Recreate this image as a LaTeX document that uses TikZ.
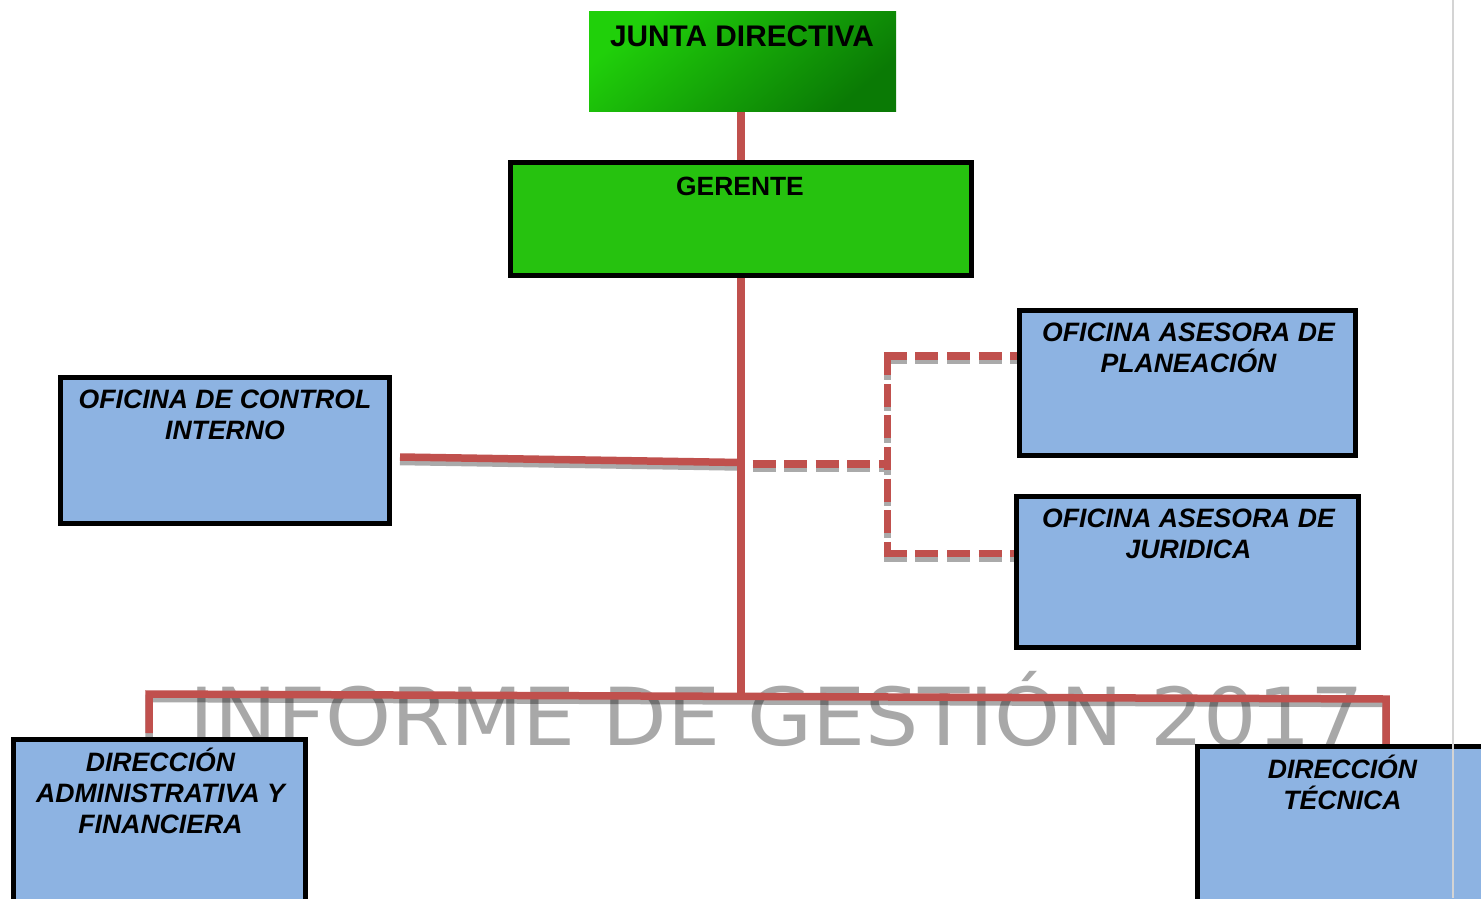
\documentclass[tikz,border=0pt]{standalone}
\usepackage{fontspec}
\setmainfont{Liberation Sans}
\newfontfamily\wmfont{DejaVu Sans}
\usetikzlibrary{calc}
\definecolor{redc}{HTML}{C0504D}
\definecolor{shadc}{HTML}{AAAAAA}
\definecolor{gerc}{HTML}{26C20F}
\definecolor{bluec}{HTML}{8DB3E2}
\definecolor{jtop}{RGB}{32,208,10}
\definecolor{jbot}{RGB}{10,122,5}
\definecolor{vline}{HTML}{D4D4D4}
\pgfdeclarelayer{shadowl}
\pgfdeclarelayer{wml}
\pgfdeclarelayer{linel}
\pgfsetlayers{shadowl,wml,linel,main}
\begin{document}
\begin{tikzpicture}[x=1pt,y=-1pt,
  conn/.style={draw=redc, line width=7.5pt, line join=miter},
  shad/.style={draw=shadc, line width=7.5pt, line join=miter, transform canvas={yshift=-4.5pt}},
  dsh/.style={dash pattern=on 23pt off 8.6pt},
  box/.style={rectangle, draw=black, line width=5pt, inner sep=0pt, outer sep=0pt},
  greenbox/.style={box, fill=gerc},
  bluebox/.style={box, fill=bluec},
  juntabox/.style={rectangle, inner sep=0pt, outer sep=0pt, top color=jtop, bottom color=jbot, shading angle=40},
  htxt/.style={inner sep=0pt, anchor=base, font=\bfseries},
  btxt/.style={inner sep=0pt, anchor=base, font=\fontsize{26.6}{31}\selectfont\bfseries\itshape},
  wm/.style={inner sep=0pt, anchor=base, text=black, text opacity=0.34}
]
\useasboundingbox (0,0) rectangle (1481,898);
\clip (0,0) rectangle (1481,898);
\begin{pgfonlayer}{shadowl}
\fill[white] (0,0) rectangle (1481,898);
\end{pgfonlayer}

% boxes
\node[juntabox, minimum width=307pt, minimum height=100.7pt] (junta) at (742.5,61.35) {};
\node[greenbox, minimum width=461.5pt, minimum height=113.5pt] (ger) at (740.75,218.75) {};
\node[bluebox, minimum width=329pt, minimum height=145.5pt] (oci) at (224.5,450.25) {};
\node[bluebox, minimum width=336pt, minimum height=145.5pt] (plan) at (1187,382.75) {};
\node[bluebox, minimum width=342pt, minimum height=151.5pt] (jur) at (1187,571.75) {};
\node[bluebox, minimum width=292pt, minimum height=260.5pt] (daf) at (159,869.75) {};
\node[bluebox, minimum width=502.5pt, minimum height=254pt] (dt) at (1448.75,873) {};

% texts
\node[htxt, font=\fontsize{29.8}{34}\selectfont\bfseries] (junta-t) at (742,46) {JUNTA DIRECTIVA};
\node[htxt, font=\fontsize{26.4}{31}\selectfont\bfseries] (ger-t) at (740,195) {GERENTE};
\node[btxt] (oci-t) at (225,408) {\parbox[t]{400pt}{\centering OFICINA DE CONTROL\\INTERNO}};
\node[btxt] (plan-t) at (1188.5,341) {\parbox[t]{400pt}{\centering OFICINA ASESORA DE\\PLANEACIÓN}};
\node[btxt] (jur-t) at (1188.5,527) {\parbox[t]{400pt}{\centering OFICINA ASESORA DE\\JURIDICA}};
\node[btxt] (daf-t) at (160.5,771.5) {\parbox[t]{400pt}{\centering DIRECCIÓN\\ADMINISTRATIVA Y\\FINANCIERA}};
\node[btxt] (dt-t) at (1342.5,778) {\parbox[t]{400pt}{\centering DIRECCIÓN\\TÉCNICA}};

% junction coordinates
\coordinate (jm) at (740.75,462.5);
\coordinate (oce) at (400,457);
\coordinate (dm) at (752.5,464);
\coordinate (bm) at (887.6,464);
\coordinate (bt) at (887.6,356);
\coordinate (bb) at (887.6,553.5);
\coordinate (bl) at (149,694);
\coordinate (br) at (1386,699);
\coordinate (jb) at (740.75,696.4);
\coordinate (dl) at (149,733);
\coordinate (dr) at (1386,746);

% shadows
\begin{pgfonlayer}{shadowl}
\draw[shad] (junta.south -| ger.north) -- (ger.north);
\draw[shad] (ger.south) -- (jb);
\draw[shad] (oce) -- (jm);
\draw[shad, dsh] (dm) -- (bm);
\draw[shad, dsh] ($(bt)+(0,-3.75)$) -- ($(bb)+(0,3.75)$);
\draw[shad, dsh] ($(bt)+(-3.75,0)$) -- (bt -| plan.west);
\draw[shad, dsh] ($(bb)+(-3.75,0)$) -- (bb -| jur.west);
\draw[shad] (dl) -- (bl) -- (br) -- (dr);
\end{pgfonlayer}

% watermark
\begin{pgfonlayer}{wml}
\node[wm] (wmk) at (777,745) {\wmfont\fontsize{80}{96}\selectfont\scalebox{1.05}[1]{INFORME DE GESTIÓN 2017}};
\end{pgfonlayer}

% red connectors
\begin{pgfonlayer}{linel}
\draw[conn] (junta.south -| ger.north) -- (ger.north);
\draw[conn] (oce) -- (jm);
\draw[conn, dsh] (dm) -- (bm);
\draw[conn, dsh] ($(bt)+(0,-3.75)$) -- ($(bb)+(0,3.75)$);
\draw[conn, dsh] ($(bt)+(-3.75,0)$) -- (bt -| plan.west);
\draw[conn, dsh] ($(bb)+(-3.75,0)$) -- (bb -| jur.west);
\draw[conn] (ger.south) -- (jb);
\draw[conn] (dl) -- (bl) -- (br) -- (dr);
\end{pgfonlayer}

% page edge line
\draw[draw=vline, line width=2pt] (1452.7,0) -- (1452.7,898);
\end{tikzpicture}
\end{document}
